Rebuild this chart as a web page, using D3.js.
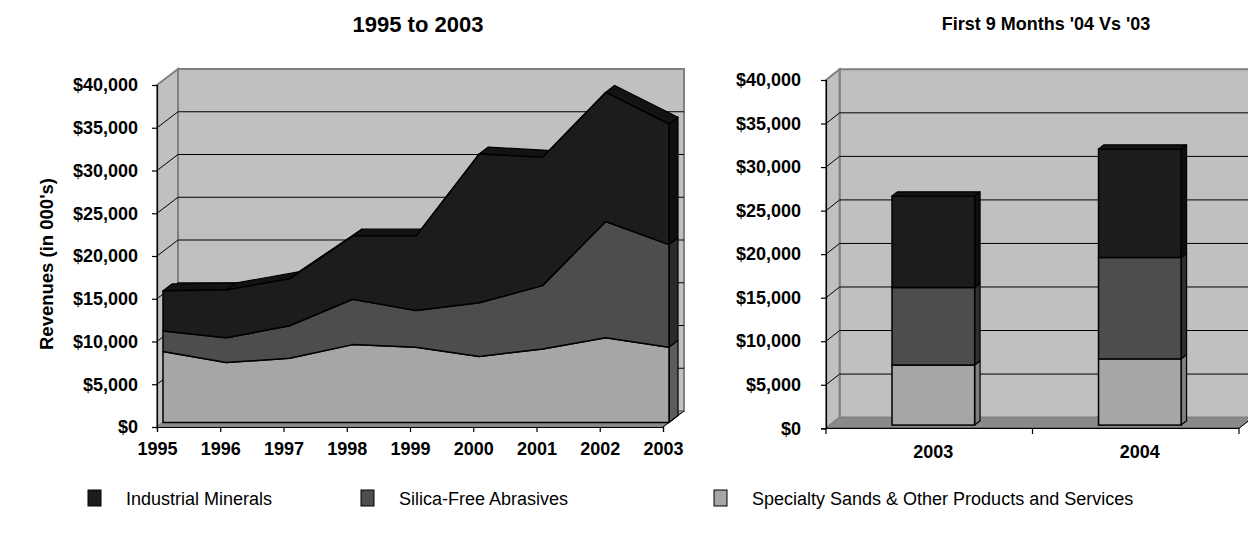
<!DOCTYPE html>
<html>
<head>
<meta charset="utf-8">
<script src="https://cdn.jsdelivr.net/npm/d3@7"></script>
<style>
  html, body { margin: 0; padding: 0; background: #fff; }
  svg { display: block; font-family: "Liberation Sans", Arial, sans-serif; }
</style>
</head>
<body>
<svg id="chart" width="1248" height="540"></svg>
<script>
// Revenues by product line, in $000's, 1995-2003
const years = ['1995', '1996', '1997', '1998', '1999', '2000', '2001', '2002', '2003'];
const specialtySands = [8300, 7000, 7500, 9100, 8800, 7700, 8600, 9900, 8800];
const silicaFree = [2400, 2900, 3800, 5300, 4300, 6300, 7400, 13600, 12000];
const industrialMinerals = [4700, 5600, 5500, 7400, 8700, 17400, 15000, 15100, 14100];

// First nine months, 2003 vs 2004
const periods = ['2003', '2004'];
const specialtySands9m = [6900, 7600];
const silicaFree9m = [8900, 11650];
const industrialMinerals9m = [10500, 12450];

const revenueTicks = [0, 5000, 10000, 15000, 20000, 25000, 30000, 35000, 40000];
const legendNames = ['Industrial Minerals', 'Silica-Free Abrasives', 'Specialty Sands & Other Products and Services'];

// stacking order: bottom to top
const keys = ['sand', 'silica', 'ind'];
const faceFill = { sand: '#a6a6a6', silica: '#4d4d4d', ind: '#1c1c1c' };
const areaSide = { sand: '#5c5c5c', silica: '#2b2b2b', ind: '#0f0f0f' };
const barSide  = { sand: '#7f7f7f', silica: '#2e2e2e', ind: '#0e0e0e' };
const topFill = '#131313';
const wallFill = '#c0c0c0', wallEdge = '#808080', floorFill = '#8a8a8a';

const fmt = d => '$' + d3.format(',')(d);
const svg = d3.select('#chart');
const line = pts => 'M' + pts.map(p => p.join(',')).join('L') + 'Z';

// Draws walls, floor and gridlines of a 3-D plot box
function drawBox(g, x0, x1, y, depth) {
  const [dx, dy] = depth;
  const yTop = y(40000), yBot = y(0);
  g.append('path').attr('d', line([[x0 + dx, yTop + dy], [x1 + dx, yTop + dy], [x1 + dx, yBot + dy], [x0 + dx, yBot + dy]]))
    .attr('fill', wallFill).attr('stroke', wallEdge).attr('stroke-width', 2);
  g.append('path').attr('d', line([[x0, yTop], [x0 + dx, yTop + dy], [x0 + dx, yBot + dy], [x0, yBot]]))
    .attr('fill', wallFill).attr('stroke', wallEdge).attr('stroke-width', 2);
  g.append('path').attr('d', line([[x0, yBot], [x1, yBot], [x1 + dx, yBot + dy], [x0 + dx, yBot + dy]]))
    .attr('fill', floorFill).attr('stroke', wallEdge).attr('stroke-width', 1);
  g.append('line').attr('x1', x1).attr('y1', yBot).attr('x2', x1 + dx).attr('y2', yBot + dy)
    .attr('stroke', '#000').attr('stroke-width', 1);
  const grid = revenueTicks.filter(v => v > 0 && v < 40000);
  g.selectAll(null).data(grid).join('line')
    .attr('x1', x0 + dx).attr('x2', x1 + dx)
    .attr('y1', v => y(v) + dy).attr('y2', v => y(v) + dy)
    .attr('stroke', '#000').attr('stroke-width', 1);
  g.selectAll(null).data(grid).join('line')
    .attr('x1', x0).attr('x2', x0 + dx)
    .attr('y1', v => y(v)).attr('y2', v => y(v) + dy)
    .attr('stroke', '#000').attr('stroke-width', 1);
}

function styleAxis(sel) {
  sel.select('.domain').attr('stroke', '#000').attr('stroke-width', 1.2);
  sel.selectAll('.tick line').attr('stroke', '#000').attr('stroke-width', 1.2);
  sel.selectAll('.tick text').attr('fill', '#000').attr('font-size', 18).attr('font-weight', 'bold')
    .attr('font-family', '"Liberation Sans", Arial, sans-serif');
}

// ---------- Left: stacked 3-D area, 1995 to 2003 ----------
{
  const g = svg.append('g');
  const x = d3.scalePoint().domain(years).range([157, 663]);
  const y = d3.scaleLinear().domain([0, 40000]).range([427, 85]);
  const D = [21, -16];
  const f0 = 0.286, f1 = 0.714;
  const fx = D[0] * f0, fy = D[1] * f0;
  const sx = D[0] * (f1 - f0), sy = D[1] * (f1 - f0);

  drawBox(g, 157, 663, y, D);

  const rows = years.map((yr, i) => ({ year: yr, sand: specialtySands[i], silica: silicaFree[i], ind: industrialMinerals[i] }));
  const stacked = d3.stack().keys(keys)(rows);
  const last = years.length - 1;
  const lastYear = years[last];

  // right-hand end faces
  stacked.forEach(s => {
    const d = s[last];
    const px = x(lastYear) + fx;
    g.append('path').attr('d', line([
      [px, y(d[0]) + fy], [px, y(d[1]) + fy], [px + sx, y(d[1]) + fy + sy], [px + sx, y(d[0]) + fy + sy]
    ])).attr('fill', areaSide[s.key]).attr('stroke', '#000').attr('stroke-width', 1.2).attr('stroke-linejoin', 'round');
  });

  // top surface of the highest series
  const topS = stacked[stacked.length - 1];
  for (let i = 0; i < last; i++) {
    const ax = x(years[i]) + fx, ay = y(topS[i][1]) + fy;
    const bx = x(years[i + 1]) + fx, by = y(topS[i + 1][1]) + fy;
    g.append('path').attr('d', line([[ax, ay], [bx, by], [bx + sx, by + sy], [ax + sx, ay + sy]]))
      .attr('fill', topFill).attr('stroke', '#000').attr('stroke-width', 1.2).attr('stroke-linejoin', 'round');
  }

  // front faces
  const area = d3.area()
    .x(d => x(d.data.year) + fx)
    .y0(d => y(d[0]) + fy)
    .y1(d => y(d[1]) + fy);
  g.selectAll(null).data(stacked).join('path')
    .attr('d', area)
    .attr('fill', s => faceFill[s.key])
    .attr('stroke', '#000').attr('stroke-width', 1.5).attr('stroke-linejoin', 'round');

  const ya = g.append('g').attr('transform', 'translate(157,0)')
    .call(d3.axisLeft(y).tickValues(revenueTicks).tickFormat(fmt).tickSize(5).tickPadding(14));
  styleAxis(ya);
  const xa = g.append('g').attr('transform', 'translate(0,427)')
    .call(d3.axisBottom(x).tickSize(5).tickPadding(10));
  styleAxis(xa);

  g.append('text').attr('x', 418).attr('y', 32).attr('text-anchor', 'middle')
    .attr('font-size', 22).attr('font-weight', 'bold').text('1995 to 2003');
}

// ---------- Right: stacked 3-D columns, first nine months ----------
{
  const g = svg.append('g');
  const x = d3.scaleBand().domain(periods).range([826, 1239]).paddingInner(0.6).paddingOuter(0.3);
  const y = d3.scaleLinear().domain([0, 40000]).range([428.3, 80]);
  const D = [13.6, -10.7];
  const f0 = 0.3, f1 = 0.7;
  const fx = D[0] * f0, fy = D[1] * f0;
  const sx = D[0] * (f1 - f0), sy = D[1] * (f1 - f0);

  drawBox(g, 826, 1239, y, D);

  const rows = periods.map((p, i) => ({ period: p, sand: specialtySands9m[i], silica: silicaFree9m[i], ind: industrialMinerals9m[i] }));
  const stacked = d3.stack().keys(keys)(rows);

  rows.forEach((row, i) => {
    const bx0 = x(row.period) + fx, bx1 = bx0 + x.bandwidth();
    stacked.forEach((s, k) => {
      const d = s[i];
      const yb = y(d[0]) + fy, yt = y(d[1]) + fy;
      g.append('path').attr('d', line([[bx1, yb], [bx1, yt], [bx1 + sx, yt + sy], [bx1 + sx, yb + sy]]))
        .attr('fill', barSide[s.key]).attr('stroke', '#000').attr('stroke-width', 1.2).attr('stroke-linejoin', 'round');
      g.append('rect').attr('x', bx0).attr('y', yt).attr('width', bx1 - bx0).attr('height', yb - yt)
        .attr('fill', faceFill[s.key]).attr('stroke', '#000').attr('stroke-width', 1.5);
      if (k === stacked.length - 1) {
        g.append('path').attr('d', line([[bx0, yt], [bx1, yt], [bx1 + sx, yt + sy], [bx0 + sx, yt + sy]]))
          .attr('fill', topFill).attr('stroke', '#000').attr('stroke-width', 1.2).attr('stroke-linejoin', 'round');
      }
    });
  });

  const ya = g.append('g').attr('transform', 'translate(826,0)')
    .call(d3.axisLeft(y).tickValues(revenueTicks).tickFormat(fmt).tickSize(5).tickPadding(20));
  styleAxis(ya);

  // category axis: ticks on category boundaries, labels centred on the columns
  const [r0, r1] = x.range();
  const bounds = [r0, (r0 + r1) / 2, r1];
  g.append('line').attr('x1', r0).attr('x2', r1).attr('y1', 428.3).attr('y2', 428.3)
    .attr('stroke', '#000').attr('stroke-width', 1.2);
  g.selectAll(null).data(bounds).join('line')
    .attr('x1', d => d).attr('x2', d => d).attr('y1', 428.3).attr('y2', 434)
    .attr('stroke', '#000').attr('stroke-width', 1.2);
  g.selectAll(null).data(periods).join('text')
    .attr('x', p => x(p) + x.bandwidth() / 2 + fx).attr('y', 458)
    .attr('text-anchor', 'middle').attr('font-size', 18).attr('font-weight', 'bold').text(p => p);

  g.append('text').attr('x', 1046).attr('y', 30).attr('text-anchor', 'middle')
    .attr('font-size', 18).attr('font-weight', 'bold').text("First 9 Months '04 Vs '03");
}

// ---------- Shared y title and legend ----------
svg.append('text').attr('transform', 'translate(53,264) rotate(-90)').attr('text-anchor', 'middle')
  .attr('font-size', 18.5).attr('font-weight', 'bold').text("Revenues (in 000's)");

const legendX = [88, 361, 714];
const legendKeys = ['ind', 'silica', 'sand'];
const lg = svg.append('g');
legendNames.forEach((name, i) => {
  lg.append('rect').attr('x', legendX[i]).attr('y', 490).attr('width', 13).attr('height', 16)
    .attr('fill', faceFill[legendKeys[i]]).attr('stroke', '#000').attr('stroke-width', 1);
  lg.append('text').attr('x', legendX[i] + 38).attr('y', 505).attr('font-size', 18).text(name);
});
</script>
</body>
</html>
